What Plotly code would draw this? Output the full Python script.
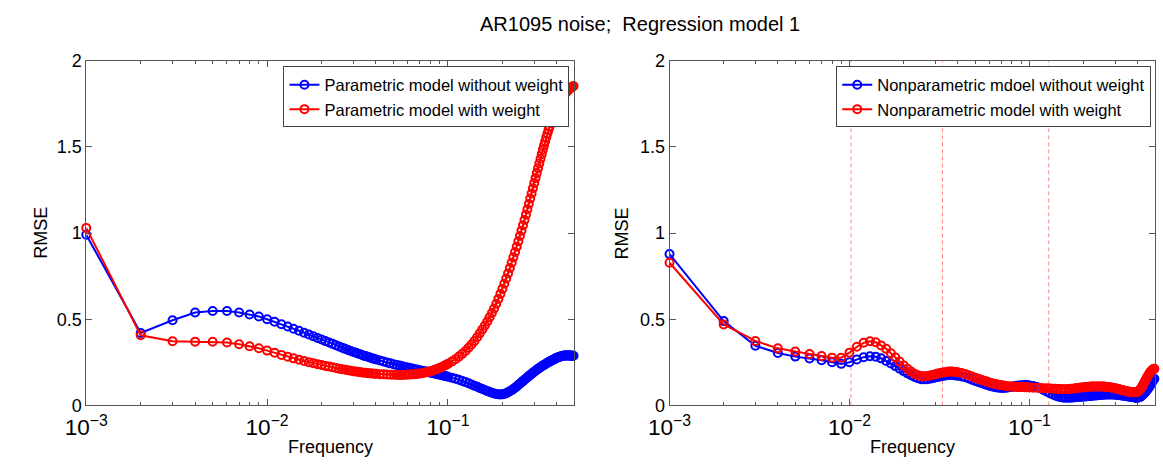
import numpy as np
import plotly.graph_objects as go

# Frequency grid (shared by both panels)
freq = np.round(np.concatenate([
    np.arange(1, 41) * 0.001,          # 0.001 .. 0.040
    np.arange(21, 51) * 0.002,         # 0.042 .. 0.100
    np.arange(21, 101) * 0.005,        # 0.105 .. 0.500
]), 3)

param_no_weight = [
    0.990, 0.420, 0.494, 0.539, 0.548, 0.548, 0.539, 0.527, 0.516, 0.500,
    0.485, 0.471, 0.458, 0.445, 0.433, 0.422, 0.411, 0.401, 0.391, 0.382,
    0.373, 0.365, 0.357, 0.349, 0.342, 0.335, 0.328, 0.322, 0.316, 0.310,
    0.305, 0.300, 0.295, 0.290, 0.286, 0.282, 0.278, 0.274, 0.270, 0.267,
    0.261, 0.255, 0.249, 0.244, 0.239, 0.235, 0.231, 0.227, 0.223, 0.220,
    0.217, 0.213, 0.210, 0.207, 0.204, 0.201, 0.198, 0.196, 0.193, 0.190,
    0.188, 0.185, 0.183, 0.180, 0.178, 0.176, 0.173, 0.171, 0.169, 0.166,
    0.161, 0.155, 0.149, 0.142, 0.135, 0.128, 0.121, 0.114, 0.108, 0.101,
    0.095, 0.089, 0.083, 0.078, 0.073, 0.069, 0.066, 0.064, 0.063, 0.064,
    0.067, 0.071, 0.076, 0.082, 0.088, 0.095, 0.102, 0.110, 0.118, 0.126,
    0.134, 0.141, 0.149, 0.156, 0.163, 0.170, 0.177, 0.183, 0.189, 0.195,
    0.201, 0.207, 0.212, 0.217, 0.222, 0.227, 0.231, 0.235, 0.239, 0.243,
    0.247, 0.251, 0.254, 0.258, 0.261, 0.264, 0.267, 0.270, 0.273, 0.276,
    0.278, 0.280, 0.282, 0.284, 0.286, 0.287, 0.288, 0.289, 0.290, 0.290,
    0.290, 0.290, 0.290, 0.290, 0.289, 0.289, 0.288, 0.288, 0.288, 0.288,
]

param_weight = [
    1.030, 0.407, 0.372, 0.370, 0.369, 0.365, 0.355, 0.343, 0.332, 0.318,
    0.305, 0.293, 0.282, 0.273, 0.265, 0.258, 0.251, 0.245, 0.239, 0.234,
    0.229, 0.225, 0.221, 0.217, 0.213, 0.210, 0.207, 0.204, 0.201, 0.198,
    0.196, 0.194, 0.192, 0.190, 0.189, 0.187, 0.186, 0.185, 0.184, 0.183,
    0.181, 0.180, 0.179, 0.178, 0.178, 0.177, 0.177, 0.177, 0.178, 0.178,
    0.179, 0.180, 0.181, 0.183, 0.185, 0.187, 0.189, 0.192, 0.195, 0.198,
    0.201, 0.205, 0.209, 0.213, 0.217, 0.221, 0.226, 0.231, 0.236, 0.241,
    0.254, 0.268, 0.283, 0.299, 0.316, 0.334, 0.353, 0.373, 0.395, 0.418,
    0.441, 0.464, 0.487, 0.511, 0.536, 0.562, 0.590, 0.618, 0.647, 0.676,
    0.706, 0.736, 0.766, 0.797, 0.828, 0.859, 0.890, 0.921, 0.952, 0.983,
    1.014, 1.045, 1.076, 1.107, 1.138, 1.169, 1.200, 1.230, 1.260, 1.290,
    1.319, 1.348, 1.376, 1.404, 1.431, 1.458, 1.484, 1.509, 1.533, 1.556,
    1.578, 1.599, 1.619, 1.638, 1.656, 1.673, 1.689, 1.704, 1.718, 1.731,
    1.743, 1.754, 1.764, 1.773, 1.782, 1.790, 1.797, 1.804, 1.810, 1.816,
    1.822, 1.827, 1.832, 1.837, 1.841, 1.845, 1.848, 1.851, 1.853, 1.855,
]

nonparam_no_weight = [
    0.878, 0.489, 0.346, 0.304, 0.283, 0.272, 0.262, 0.250, 0.241, 0.250,
    0.267, 0.280, 0.285, 0.282, 0.273, 0.258, 0.243, 0.228, 0.213, 0.199,
    0.186, 0.175, 0.165, 0.158, 0.152, 0.151, 0.152, 0.155, 0.158, 0.162,
    0.165, 0.168, 0.171, 0.173, 0.175, 0.176, 0.176, 0.175, 0.174, 0.172,
    0.168, 0.163, 0.156, 0.149, 0.142, 0.136, 0.130, 0.124, 0.119, 0.114,
    0.110, 0.107, 0.104, 0.102, 0.101, 0.101, 0.102, 0.104, 0.106, 0.108,
    0.110, 0.112, 0.114, 0.115, 0.116, 0.117, 0.117, 0.117, 0.117, 0.116,
    0.113, 0.107, 0.099, 0.090, 0.080, 0.071, 0.063, 0.056, 0.051, 0.047,
    0.045, 0.044, 0.044, 0.045, 0.046, 0.047, 0.048, 0.049, 0.050, 0.051,
    0.052, 0.053, 0.054, 0.055, 0.056, 0.057, 0.058, 0.059, 0.060, 0.061,
    0.062, 0.062, 0.063, 0.063, 0.063, 0.063, 0.063, 0.063, 0.063, 0.062,
    0.062, 0.061, 0.060, 0.059, 0.058, 0.057, 0.056, 0.055, 0.054, 0.053,
    0.052, 0.051, 0.050, 0.049, 0.048, 0.047, 0.046, 0.045, 0.045, 0.045,
    0.046, 0.048, 0.051, 0.055, 0.060, 0.065, 0.071, 0.077, 0.083, 0.089,
    0.096, 0.103, 0.110, 0.118, 0.126, 0.134, 0.142, 0.149, 0.155, 0.160,
]

nonparam_weight = [
    0.828, 0.470, 0.374, 0.331, 0.313, 0.298, 0.286, 0.277, 0.277, 0.306,
    0.340, 0.363, 0.372, 0.366, 0.348, 0.328, 0.303, 0.278, 0.254, 0.232,
    0.213, 0.196, 0.184, 0.175, 0.170, 0.169, 0.170, 0.173, 0.177, 0.181,
    0.185, 0.188, 0.191, 0.193, 0.195, 0.196, 0.196, 0.195, 0.194, 0.192,
    0.188, 0.182, 0.175, 0.168, 0.161, 0.155, 0.149, 0.143, 0.138, 0.133,
    0.129, 0.125, 0.122, 0.119, 0.117, 0.115, 0.113, 0.111, 0.110, 0.109,
    0.108, 0.108, 0.107, 0.107, 0.106, 0.106, 0.105, 0.105, 0.105, 0.104,
    0.103, 0.102, 0.101, 0.100, 0.099, 0.098, 0.097, 0.096, 0.095, 0.095,
    0.094, 0.094, 0.095, 0.096, 0.097, 0.099, 0.101, 0.102, 0.104, 0.105,
    0.106, 0.107, 0.108, 0.109, 0.109, 0.110, 0.110, 0.110, 0.110, 0.110,
    0.109, 0.109, 0.108, 0.107, 0.106, 0.105, 0.104, 0.102, 0.101, 0.099,
    0.097, 0.096, 0.094, 0.092, 0.090, 0.088, 0.086, 0.084, 0.083, 0.081,
    0.080, 0.079, 0.078, 0.077, 0.076, 0.076, 0.076, 0.076, 0.077, 0.079,
    0.083, 0.089, 0.096, 0.104, 0.113, 0.123, 0.133, 0.143, 0.152, 0.161,
    0.170, 0.178, 0.186, 0.193, 0.199, 0.204, 0.208, 0.211, 0.212, 0.212,
]

# Reference frequencies drawn as dashed lines in the right panel
ref_freqs = [0.0102, 0.0329, 0.128]

title_text = "AR1095 noise;\u00a0 Regression model 1"
left_names = ["Parametric model without weight", "Parametric model with weight"]
right_names = ["Nonparametric mdoel without weight", "Nonparametric model with weight"]

W, H = 1163, 469
FONT = "Liberation Sans, Arial, sans-serif"
BLUE, RED = "#0000FF", "#FF0000"
AXC = "#555555"

fig = go.Figure()

def add_series(x, y, name, color, xa, ya, legend):
    fig.add_trace(go.Scatter(
        x=x, y=y, name=name, mode="lines+markers",
        line=dict(color=color, width=2),
        marker=dict(symbol="circle-open", size=8, color=color,
                    line=dict(width=2, color=color)),
        xaxis=xa, yaxis=ya, legend=legend, cliponaxis=False,
    ))

add_series(freq, param_no_weight, left_names[0], BLUE, "x", "y", "legend")
add_series(freq, param_weight, left_names[1], RED, "x", "y", "legend")

for f in ref_freqs:
    fig.add_trace(go.Scatter(
        x=[f, f], y=[0, 2], mode="lines", showlegend=False,
        line=dict(color="#FF8A8A", width=1, dash="4px,3px"),
        xaxis="x2", yaxis="y2", hoverinfo="skip",
    ))

add_series(freq, nonparam_no_weight, right_names[0], BLUE, "x2", "y2", "legend2")
add_series(freq, nonparam_weight, right_names[1], RED, "x2", "y2", "legend2")

def xaxis(domain, anchor):
    return dict(
        domain=domain, anchor=anchor, type="log",
        range=[-3, np.log10(0.5)], dtick=1, exponentformat="power",
        showline=True, linecolor=AXC, linewidth=1, mirror="ticks",
        ticks="inside", ticklen=6, tickcolor=AXC, showgrid=False, zeroline=False,
        minor=dict(ticks="inside", ticklen=3, tickcolor=AXC, showgrid=False),
        ticklabelstandoff=3,
        tickfont=dict(family=FONT, size=18, color="black"),
    )

def yaxis(anchor):
    return dict(
        domain=[(H - 413) / H, (H - 53) / H], anchor=anchor,
        range=[0, 2], dtick=0.5,
        showline=True, linecolor=AXC, linewidth=1, mirror="ticks",
        ticks="inside", ticklen=6, tickcolor=AXC, showgrid=False, zeroline=False,
        tickfont=dict(family=FONT, size=18, color="black"),
    )

legend_common = dict(
    bgcolor="white", bordercolor="#444444", borderwidth=1,
    font=dict(family=FONT, size=16.5, color="black"),
    xanchor="right", yanchor="top", y=(H - 59) / H,
    tracegroupgap=0, itemclick=False,
)

fig.update_layout(
    width=W, height=H,
    margin=dict(l=0, r=0, t=0, b=0),
    paper_bgcolor="white", plot_bgcolor="white",
    font=dict(family=FONT, color="black"),
    xaxis=xaxis([65.5 / W, 563 / W], "y"),
    yaxis=yaxis("x"),
    xaxis2=xaxis([660 / W, 1155 / W], "y2"),
    yaxis2=yaxis("x2"),
    legend=dict(legend_common, x=558 / W),
    legend2=dict(legend_common, x=1151 / W),
    annotations=[
        dict(text=title_text, x=630 / W, y=(H - 15) / H, xref="paper", yref="paper",
             xanchor="center", yanchor="middle", showarrow=False,
             font=dict(family=FONT, size=20, color="black")),
        dict(text="Frequency", x=314 / W, y=(H - 456) / H, xref="paper", yref="paper",
             xanchor="center", yanchor="middle", showarrow=False,
             font=dict(family=FONT, size=18, color="black")),
        dict(text="Frequency", x=907.5 / W, y=(H - 456) / H, xref="paper", yref="paper",
             xanchor="center", yanchor="middle", showarrow=False,
             font=dict(family=FONT, size=18, color="black")),
        dict(text="RMSE", x=19 / W, y=(H - 233) / H, xref="paper", yref="paper",
             xanchor="center", yanchor="middle", showarrow=False, textangle=-90,
             font=dict(family=FONT, size=18, color="black")),
        dict(text="RMSE", x=612 / W, y=(H - 233) / H, xref="paper", yref="paper",
             xanchor="center", yanchor="middle", showarrow=False, textangle=-90,
             font=dict(family=FONT, size=18, color="black")),
    ],
    showlegend=True,
)

fig.write_html("out.html")
